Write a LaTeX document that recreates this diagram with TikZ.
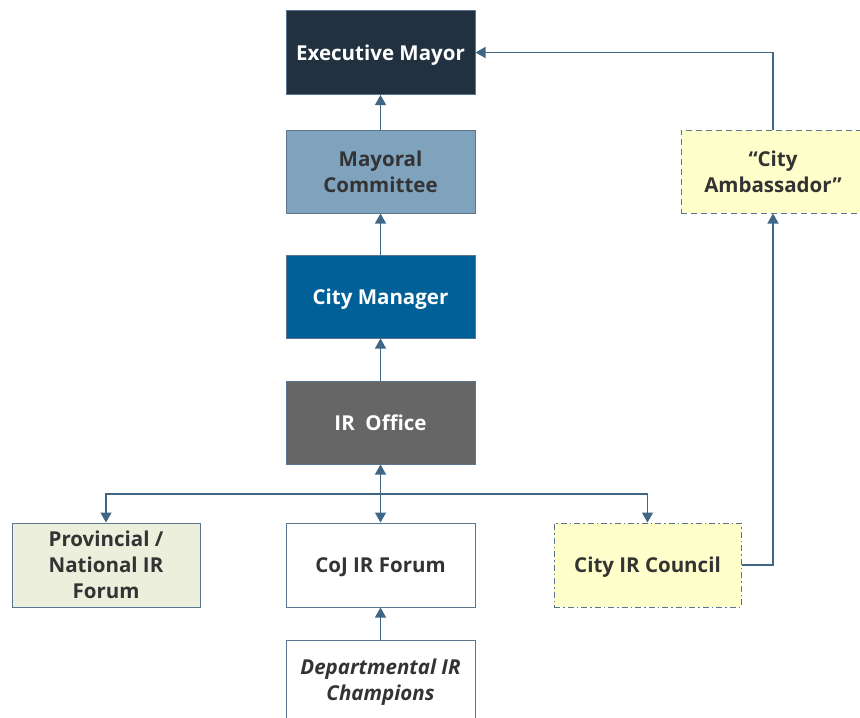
\documentclass[tikz,border=0pt]{standalone}
\usepackage{fontspec}
\setmainfont{Open Sans}
\usetikzlibrary{arrows.meta}
\definecolor{linec}{HTML}{3F6685}
\definecolor{boxline}{HTML}{5A7590}
\definecolor{txt}{HTML}{333333}
\definecolor{execc}{HTML}{213140}
\definecolor{mayc}{HTML}{7FA2BD}
\definecolor{cmc}{HTML}{006097}
\definecolor{irc}{HTML}{666666}
\definecolor{provc}{HTML}{EBEFDB}
\definecolor{yelc}{HTML}{FFFFCC}
\tikzset{
  orgbox/.style={draw=boxline, line width=1pt, minimum width=189pt, minimum height=84pt,
    align=center, inner sep=2pt, font=\fontsize{20.5}{26}\selectfont\bfseries, text=txt},
  oneline/.style={text depth=0pt},
  darktext/.style={text=white},
  conn/.style={draw=linec, line width=1.3pt, -{Triangle[length=10pt,width=11pt]}},
  dconn/.style={draw=linec, line width=1.3pt, {Triangle[length=10pt,width=11pt]}-{Triangle[length=10pt,width=11pt]}},
}
\begin{document}
\begin{tikzpicture}[x=1pt,y=-1pt]
\useasboundingbox (0,0) rectangle (860,718);
\node[orgbox, oneline, fill=execc, darktext] (exec) at (380.5,52.5) {Executive Mayor};
\node[orgbox, fill=mayc, minimum height=83pt] (may) at (380.5,171.5) {Mayoral\\Committee};
\node[orgbox, oneline, fill=cmc, darktext, minimum height=83pt] (cm) at (380.5,296.5) {City Manager};
\node[orgbox, oneline, fill=irc, darktext, minimum height=83pt] (ir) at (380.5,422.5) {IR\ \ Office};
\node[orgbox, fill=provc, minimum width=188pt] (prov) at (106,565) {Provincial /\\National IR\\Forum};
\node[orgbox, oneline, fill=white] (coj) at (380.5,565) {CoJ IR Forum};
\node[orgbox, oneline, fill=yelc, minimum width=187pt, dash pattern=on 6pt off 3pt on 1.5pt off 3pt] (council) at (647.5,565) {City IR Council};
\node[orgbox, fill=yelc, minimum width=184pt, minimum height=83pt, dash pattern=on 6pt off 4pt] (amb) at (773,171.5) {“City\\Ambassador”};
\node[orgbox, fill=white, font=\fontsize{20.5}{26}\selectfont\bfseries\itshape] (dept) at (380.5,682) {Departmental IR\\Champions};
\coordinate (br) at (380.5,494);
\draw[conn] (may) -- (exec);
\draw[conn] (cm) -- (may);
\draw[conn] (ir) -- (cm);
\draw[dconn] (ir) -- (coj);
\draw[conn] (br) -| (prov.north);
\draw[conn] (br) -| (council.north);
\draw[conn] (dept) -- (coj);
\draw[conn] (council.east) -| (amb.south);
\draw[conn] (amb.north) |- (exec.east);
\end{tikzpicture}
\end{document}
